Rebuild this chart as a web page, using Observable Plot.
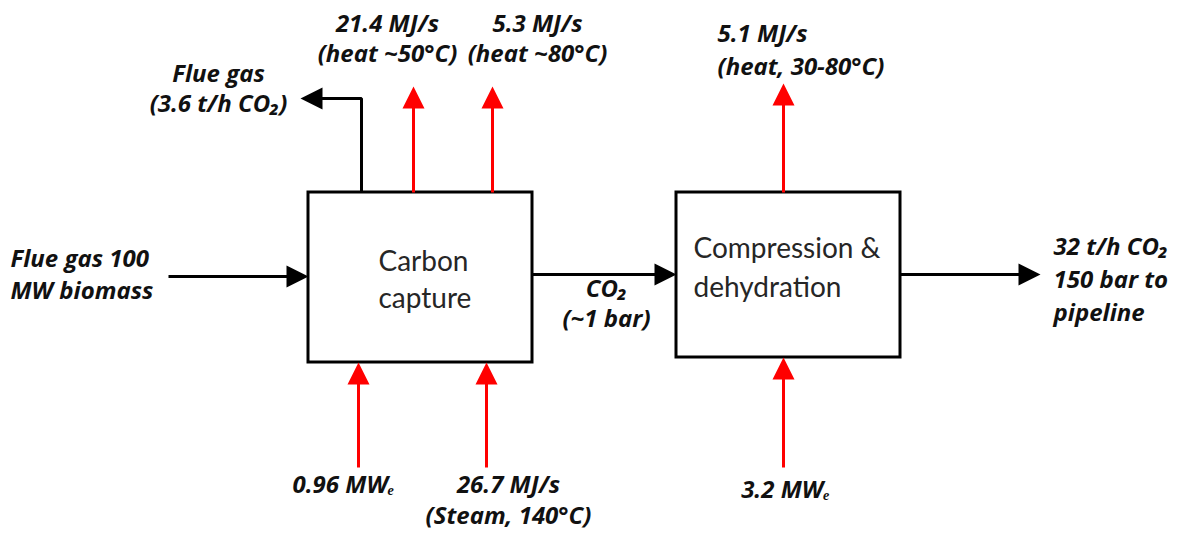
<!DOCTYPE html>
<html>
<head>
<meta charset="utf-8">
<script src="https://cdn.jsdelivr.net/npm/d3@7"></script>
<script src="https://cdn.jsdelivr.net/npm/@observablehq/plot@0.6"></script>
<style>
  html, body { margin: 0; padding: 0; background: #ffffff; }
  #chart svg { display: block; }
</style>
</head>
<body>
<div id="chart"></div>
<script>
// ---- Data: process units ----
const unitNames = ["Carbon\ncapture", "Compression &\ndehydration"];

// ---- Data: streams (text of each stream label) ----
const streamLabels = [
  "Flue gas 100\nMW biomass",
  "CO₂\n(~1 bar)",
  "32 t/h CO₂\n150 bar to\npipeline",
  "Flue gas\n(3.6 t/h CO₂)",
  "21.4 MJ/s\n(heat ~50°C)",
  "5.3 MJ/s\n(heat ~80°C)",
  "5.1 MJ/s\n(heat, 30-80°C)",
  "0.96 MWₑ",
  "26.7 MJ/s\n(Steam, 140°C)",
  "3.2 MWₑ"
];
const streamKinds = ["mass", "mass", "mass", "mass", "energy", "energy", "energy", "energy", "energy", "energy"];

// ---- Layout (diagram coordinates, pixels) ----
const unitBoxes = [[308, 192, 532, 362], [676, 192, 900, 357]];
// [x, first baseline, line spacing]
const unitTextPos = [[378, 270, 37], [693, 257, 39]];
const streamPaths = [
  [[168, 276], [308, 276]],
  [[532, 274], [676, 274]],
  [[900, 274], [1040, 274]],
  [[361, 192], [361, 98], [300, 98]],
  [[413, 192], [413, 86]],
  [[492, 192], [492, 86]],
  [[783, 192], [783, 83]],
  [[358, 467], [358, 362]],
  [[486, 467], [486, 362]],
  [[783, 467], [783, 357]]
];
// [x, first baseline, line spacing, anchor]
const streamTextPos = [
  [10, 266, 32, "start"],
  [606, 296, 30, "middle"],
  [1053, 254, 33, "start"],
  [218, 81, 30, "middle"],
  [387, 31, 30, "middle"],
  [537, 31, 30, "middle"],
  [717, 41, 33, "start"],
  [343, 492, 30, "middle"],
  [508, 492, 31, "middle"],
  [785, 497, 30, "middle"]
];
const kindColor = {mass: "#000000", energy: "#ff0000"};

// ---- Build tables for the marks ----
const HEAD_LEN = 22, HEAD_HALF = 11;
const shafts = [], heads = [];
streamPaths.forEach((pts, i) => {
  const n = pts.length;
  const [tx, ty] = pts[n - 1];
  const [px, py] = pts[n - 2];
  const L = Math.hypot(tx - px, ty - py);
  const ux = (tx - px) / L, uy = (ty - py) / L;
  const bx = tx - ux * HEAD_LEN, by = ty - uy * HEAD_LEN;
  const color = kindColor[streamKinds[i]];
  pts.slice(0, n - 1).forEach(([x, y]) => shafts.push({id: i, x, y, color}));
  shafts.push({id: i, x: bx + ux * 1, y: by + uy * 1, color});
  heads.push({id: i, x: tx, y: ty, color});
  heads.push({id: i, x: bx - uy * HEAD_HALF, y: by + ux * HEAD_HALF, color});
  heads.push({id: i, x: bx + uy * HEAD_HALF, y: by - ux * HEAD_HALF, color});
});

const boxes = unitNames.map((name, i) => {
  const [x1, y1, x2, y2] = unitBoxes[i];
  return {name, x1, y1, x2, y2};
});

const W = 1179, H = 536;
const LABEL_SIZE = 24, UNIT_SIZE = 28;

// one multi-line text mark per label (last-line baseline at y)
function labelMark(text, [x, y, dy, anchor], opts) {
  const n = text.split("\n").length;
  return Plot.text([{text, x, y: y + (n - 1) * dy}], {
    x: "x", y: "y", text: "text",
    textAnchor: anchor, lineAnchor: "bottom",
    lineHeight: dy / opts.fontSize,
    ...opts
  });
}

const labelStyle = {fontFamily: "Open Sans", fontStyle: "italic", fontWeight: "bold", fontSize: LABEL_SIZE, fill: "#111"};
const unitStyle = {fontFamily: "Lato", fontSize: UNIT_SIZE, fill: "#262626"};

const chart = Plot.plot({
  width: W,
  height: H,
  margin: 0,
  x: {domain: [0, W], range: [0, W], axis: null},
  y: {domain: [0, H], range: [0, H], axis: null},
  color: {type: "identity"},
  style: {background: "#ffffff", overflow: "visible"},
  marks: [
    Plot.rect(boxes, {x1: "x1", x2: "x2", y1: "y1", y2: "y2", fill: "white", stroke: "black", strokeWidth: 3}),
    Plot.line(shafts, {x: "x", y: "y", z: "id", stroke: "color", strokeWidth: 3, strokeLinejoin: "miter", strokeLinecap: "butt", curve: "linear"}),
    Plot.line(heads, {x: "x", y: "y", z: "id", fill: "color", stroke: "none", curve: "linear-closed"}),
    ...unitNames.map((t, i) => labelMark(t, [...unitTextPos[i], "start"], unitStyle)),
    ...streamLabels.map((t, i) => labelMark(t, streamTextPos[i], labelStyle))
  ]
});
document.getElementById("chart").appendChild(chart);
</script>
</body>
</html>
